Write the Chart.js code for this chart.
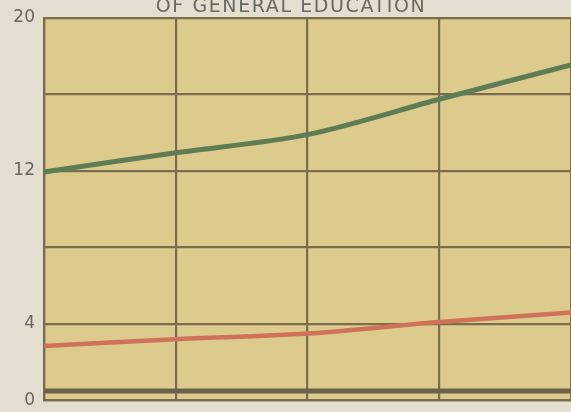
<!DOCTYPE html>
<html>
<head>
<meta charset="utf-8">
<script src="https://cdn.jsdelivr.net/npm/chart.js@4/dist/chart.umd.min.js"></script>
<style>
  html, body { margin: 0; padding: 0; background: #e3ded0; }
  canvas { display: block; }
</style>
</head>
<body>
<canvas id="chart" width="571" height="412"></canvas>
<script>
// values
var categories = ['1', '2', '3', '4', '5'];
var greenValues = [11.95, 12.95, 13.9, 15.75, 17.55];
var redValues = [2.85, 3.2, 3.5, 4.1, 4.6];
var baseValues = [0.5, 0.5, 0.5, 0.5, 0.5];
var yTickLabels = [0, 4, 12, 20];
var titleText = 'OF GENERAL EDUCATION';

var gridColor = '#7b6c4e';

var ctx = document.getElementById('chart').getContext('2d');

var plotBg = {
	id: 'plotBg',
	beforeDraw: function(chart) {
		var a = chart.chartArea;
		var c = chart.ctx;
		c.save();
		c.fillStyle = '#dccb8d';
		c.fillRect(a.left, a.top, a.right - a.left, a.bottom - a.top);
		c.restore();
	}
};

var topTitle = {
	id: 'topTitle',
	afterDraw: function(chart) {
		var c = chart.ctx;
		c.save();
		c.fillStyle = '#686864';
		c.font = '19px "DejaVu Sans"';
		c.textAlign = 'center';
		c.textBaseline = 'alphabetic';
		if ('letterSpacing' in c) c.letterSpacing = '1.6px';
		c.fillText(titleText, 291, 12);
		c.restore();
	}
};

var chart = new Chart(ctx, {
	type: 'line',
	data: {
		labels: categories,
		datasets: [{
			label: 'green',
			data: greenValues,
			borderColor: '#5f7d55',
			borderWidth: 5,
			pointRadius: 0,
			tension: 0.3
		}, {
			label: 'red',
			data: redValues,
			borderColor: '#d07259',
			borderWidth: 4.5,
			pointRadius: 0,
			tension: 0.3
		}, {
			label: 'base',
			data: baseValues,
			borderColor: '#6c624c',
			borderWidth: 5,
			pointRadius: 0
		}]
	},
	options: {
		responsive: false,
		animation: false,
		devicePixelRatio: 1,
		layout: { padding: { top: 18, right: 0, bottom: 11.5, left: 0 } },
		plugins: {
			legend: { display: false },
			tooltip: { enabled: false }
		},
		scales: {
			x: {
				offset: false,
				ticks: { display: false },
				grid: { color: gridColor, lineWidth: 2.2, drawTicks: false },
				border: { color: gridColor, width: 2.2 },
				afterFit: function(scale) { scale.height = 0; }
			},
			y: {
				min: 0,
				max: 20,
				ticks: {
					stepSize: 4,
					padding: 9,
					color: '#676663',
					font: { family: 'DejaVu Sans', size: 17 },
					callback: function(v) { return yTickLabels.indexOf(v) >= 0 ? String(v) : ''; }
				},
				grid: { color: gridColor, lineWidth: 2.2, drawTicks: false },
				border: { color: gridColor, width: 2.2 },
				afterFit: function(scale) {
					scale.width = 44;
					scale.paddingTop = 0;
					scale.paddingBottom = 0;
				}
			}
		}
	},
	plugins: [plotBg, topTitle]
});
</script>
</body>
</html>
